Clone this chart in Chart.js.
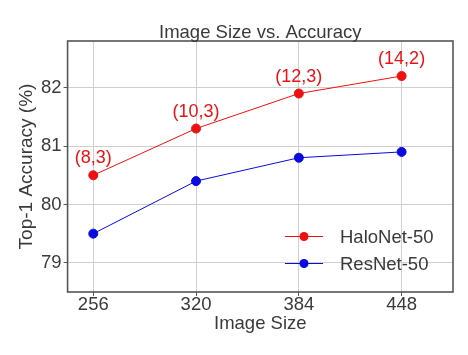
<!DOCTYPE html>
<html>
<head>
<meta charset="utf-8">
<script src="https://cdn.jsdelivr.net/npm/chart.js@4"></script>
<style>
html,body{margin:0;padding:0;background:#fff;}
#wrap{width:468px;height:355px;}
</style>
</head>
<body>
<div id="wrap"><canvas id="c" width="468" height="355"></canvas></div>
<script>
const imageSizes = [256, 320, 384, 448];
const haloNetAcc = [80.5, 81.3, 81.9, 82.2];
const resNetAcc = [79.5, 80.4, 80.8, 80.9];
const haloNetConfigs = ["(8,3)", "(10,3)", "(12,3)", "(14,2)"];
const yTicks = [79, 80, 81, 82];
const seriesNames = ["HaloNet-50", "ResNet-50"];
const chartTitle = "Image Size vs. Accuracy";
const xTitle = "Image Size";
const yTitle = "Top-1 Accuracy (%)";

const FONT = "'Liberation Sans', Arial, sans-serif";
const RED = '#ee1111';
const BLUE = '#0a0ae0';
const TXT = '#3a3a3a';

const framePlugin = {
  id: 'frame',
  afterDatasetsDraw(chart) {
    const {ctx, chartArea: a} = chart;
    ctx.save();
    ctx.strokeStyle = '#555';
    ctx.lineWidth = 1.6;
    ctx.strokeRect(a.left, a.top, a.right - a.left, a.bottom - a.top);
    // title centered over plot area
    ctx.fillStyle = TXT;
    ctx.font = '18.5px ' + FONT;
    ctx.textAlign = 'center';
    ctx.textBaseline = 'alphabetic';
    ctx.fillText(chartTitle, (a.left + a.right) / 2, a.top - 3);
    // point labels
    const meta = chart.getDatasetMeta(0);
    ctx.fillStyle = RED;
    ctx.font = '18px ' + FONT;
    meta.data.forEach((pt, i) => {
      ctx.fillText(haloNetConfigs[i], pt.x, pt.y - 12);
    });
    // legend
    const lx0 = 285, lx1 = 323, tx = 340;
    const ys = [236.5, 263.5];
    const cols = [RED, BLUE];
    ctx.textAlign = 'left';
    ctx.textBaseline = 'middle';
    ys.forEach((y, i) => {
      ctx.strokeStyle = cols[i];
      ctx.lineWidth = 1;
      ctx.beginPath(); ctx.moveTo(lx0, y); ctx.lineTo(lx1, y); ctx.stroke();
      ctx.fillStyle = cols[i];
      ctx.beginPath(); ctx.arc((lx0 + lx1) / 2, y, 4.5, 0, Math.PI * 2); ctx.fill();
      ctx.fillStyle = TXT;
      ctx.font = '18.5px ' + FONT;
      ctx.fillText(chart.data.datasets[i].label, tx, y + 1);
    });
    ctx.restore();
  }
};

new Chart(document.getElementById('c'), {
  type: 'line',
  data: {
    datasets: [
      {
        label: seriesNames[0],
        data: imageSizes.map((x, i) => ({x, y: haloNetAcc[i]})),
        borderColor: RED, backgroundColor: RED,
        borderWidth: 1, pointRadius: 4.5, pointHoverRadius: 4.5
      },
      {
        label: seriesNames[1],
        data: imageSizes.map((x, i) => ({x, y: resNetAcc[i]})),
        borderColor: BLUE, backgroundColor: BLUE,
        borderWidth: 1, pointRadius: 4.5, pointHoverRadius: 4.5
      }
    ]
  },
  options: {
    responsive: false,
    animation: false,
    layout: {padding: {left: 17, right: 15, top: 41, bottom: 22}},
    plugins: {
      legend: {display: false},
      tooltip: {enabled: false},
      title: {display: false}
    },
    scales: {
      x: {
        type: 'linear',
        min: 240, max: 480,
        afterBuildTicks(scale) { scale.ticks = imageSizes.map(v => ({value: v})); },
        grid: {color: '#d0d0d0', tickColor: '#555', tickLength: 4, lineWidth: 1},
        border: {display: false},
        ticks: {color: TXT, font: {family: FONT, size: 18.5, lineHeight: 1}, padding: 0},
        title: {display: true, text: xTitle, color: TXT, font: {family: FONT, size: 18.5, lineHeight: 1}, padding: {top: 0, bottom: 0}}
      },
      y: {
        min: 78.5, max: 82.8,
        afterBuildTicks(scale) { scale.ticks = yTicks.map(v => ({value: v})); },
        grid: {color: '#d0d0d0', tickColor: '#555', tickLength: 4, lineWidth: 1},
        border: {display: false},
        ticks: {color: TXT, font: {family: FONT, size: 18.5, lineHeight: 1}, padding: 2},
        title: {display: true, text: yTitle, color: TXT, font: {family: FONT, size: 19, lineHeight: 1}, padding: {top: 0, bottom: 3}}
      }
    }
  },
  plugins: [framePlugin]
});
</script>
</body>
</html>
